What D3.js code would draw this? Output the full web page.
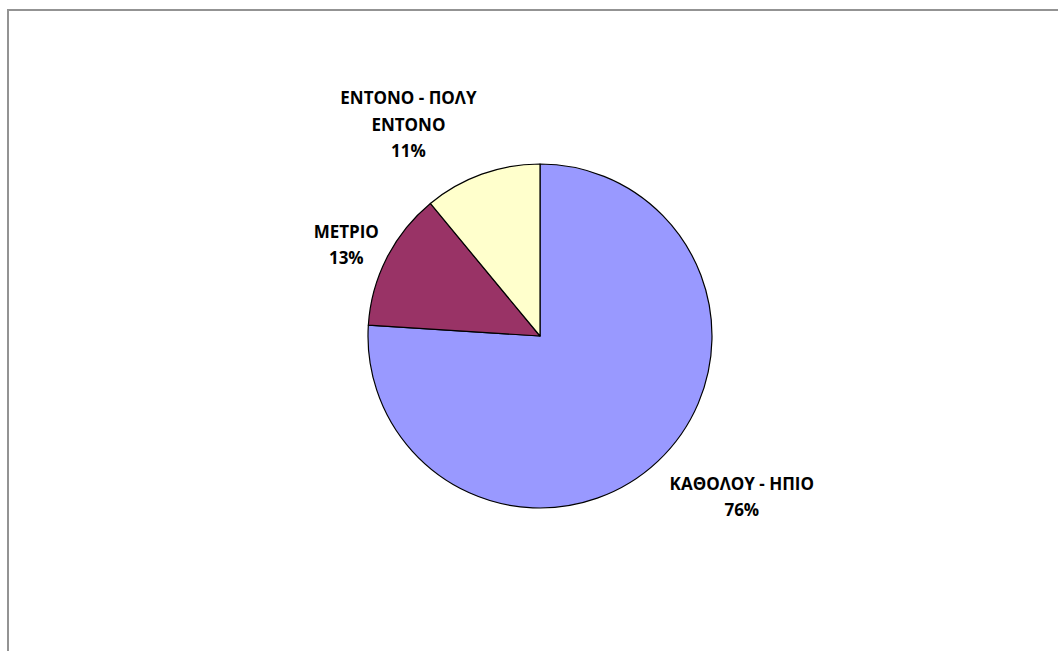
<!DOCTYPE html>
<html>
<head>
<meta charset="utf-8">
<script src="https://cdn.jsdelivr.net/npm/d3@7"></script>
<style>
  html, body { margin: 0; padding: 0; background: #fff; overflow: hidden; }
  svg { display: block; }
  .lbl { font-family: "Open Sans", "Noto Sans", sans-serif; font-weight: 700; font-size: 17px; fill: #000; }
</style>
</head>
<body>
<svg id="chart" width="1058" height="651"></svg>
<script>
// Pie slices, drawn clockwise from 12 o'clock
const categories = ["ΚΑΘΟΛΟΥ - ΗΠΙΟ", "ΜΕΤΡΙΟ", "ΕΝΤΟΝΟ - ΠΟΛΥ ΕΝΤΟΝΟ"];
const values = [76, 13, 11];
const colors = ["#9999FF", "#993366", "#FFFFCC"];
// label text, split into lines as shown
const labelLines = [["ΚΑΘΟΛΟΥ - ΗΠΙΟ", "76%"], ["ΜΕΤΡΙΟ", "13%"], ["ΕΝΤΟΝΟ - ΠΟΛΥ", "ΕΝΤΟΝΟ", "11%"]];

const W = 1058, H = 651;
const cx = 540, cy = 336, R = 172;
const lineH = 26.5;

const svg = d3.select("#chart");

// outer frame of the chart area (extends past the window on right/bottom)
svg.append("rect")
  .attr("x", 8).attr("y", 10)
  .attr("width", 1100).attr("height", 700)
  .attr("fill", "none")
  .attr("stroke", "#939393")
  .attr("stroke-width", 2);

const pie = d3.pie().sort(null).value(d => d)(values);
const arc = d3.arc().innerRadius(0).outerRadius(R);

const g = svg.append("g").attr("transform", `translate(${cx},${cy})`);
g.selectAll("path")
  .data(pie)
  .join("path")
  .attr("d", arc)
  .attr("fill", (d, i) => colors[i])
  .attr("stroke", "#000")
  .attr("stroke-width", 1.2)
  .attr("stroke-linejoin", "round");

// label placement: a ring outside the pie, nudged per slice
const labelArc = d3.arc().innerRadius(R + 60).outerRadius(R + 60);
const nudge = [[43, -8], [13, 14], [-53, 7]];

const labels = svg.append("g").attr("transform", `translate(${cx},${cy})`);
pie.forEach((d, i) => {
  const [x, y] = labelArc.centroid(d);
  const lx = x + nudge[i][0], ly = y + nudge[i][1];
  const lines = labelLines[i];
  const t = labels.append("text")
    .attr("class", "lbl")
    .attr("text-anchor", "middle");
  lines.forEach((s, k) => {
    t.append("tspan")
      .attr("x", lx)
      .attr("y", ly + (k - (lines.length - 1) / 2) * lineH)
      .attr("dy", "0.36em")
      .text(s);
  });
});
</script>
</body>
</html>
